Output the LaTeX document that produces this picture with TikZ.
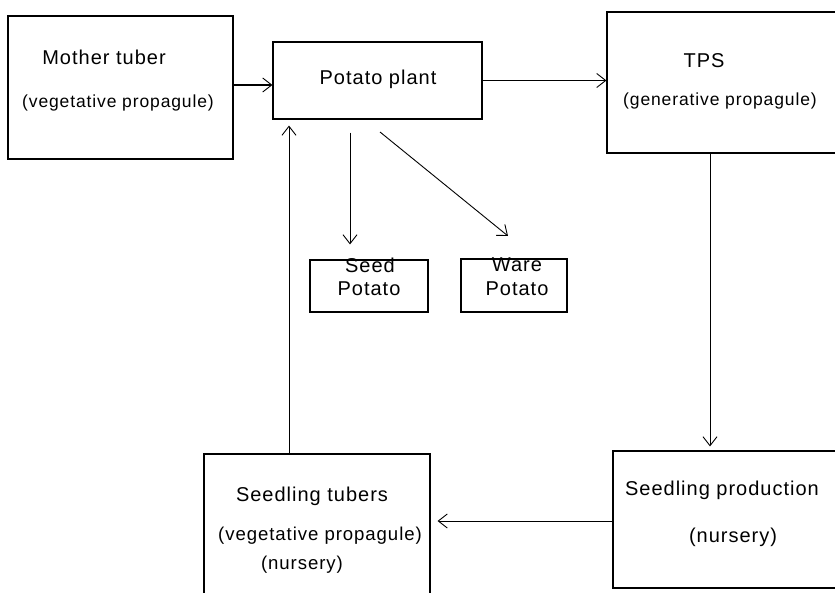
\documentclass[tikz,border=0pt]{standalone}
\usepackage{fontspec}
\setmainfont{Liberation Sans}[LetterSpace=5.0]
\usetikzlibrary{arrows.meta}
\begin{document}
\begin{tikzpicture}[x=1pt,y=-1pt,
  box/.style={draw, line width=1.1pt, rectangle, inner sep=0pt},
  arr/.style={draw, line width=0.9pt, -{Straight Barb[length=9pt,width=14pt,line width=0.9pt]}},
  lbl/.style={anchor=mid, inner sep=0pt},
  big/.style={lbl, font=\fontsize{20}{24}\selectfont},
  small/.style={lbl, font=\fontsize{17.5}{21}\selectfont},
  mid/.style={lbl, font=\fontsize{18.6}{22}\selectfont}]
\useasboundingbox (0,0) rectangle (835,593);
\clip (0,0) rectangle (835,593);
% boxes
\node[box, minimum width=225pt, minimum height=143pt] (mother) at (120.5,87.5) {};
\node[box, minimum width=209pt, minimum height=77pt] (plant) at (377.5,80.5) {};
\node[box, minimum width=243pt, minimum height=141pt] (tps) at (728.5,82.5) {};
\node[box, minimum width=118pt, minimum height=52pt] (seed) at (369,286) {};
\node[box, minimum width=106pt, minimum height=53pt] (ware) at (514,285.5) {};
\node[box, minimum width=226pt, minimum height=156pt] (tubers) at (317,532) {};
\node[box, minimum width=237pt, minimum height=137pt] (prod) at (731.5,519.5) {};
% texts
\node[big] (t1) at (104,62) {Mother tuber};
\node[small] (t2) at (118,105) {(vegetative propagule)};
\node[big] (t3) at (378,82) {Potato plant};
\node[big] (t4) at (704,65) {TPS};
\node[small] (t5) at (720,103) {(generative propagule)};
\node[big] (t6) at (370,270) {Seed};
\node[big] (t7) at (369,293) {Potato};
\node[big] (t8) at (517,269) {Ware};
\node[big] (t9) at (517,293) {Potato};
\node[big] (t10) at (312,499) {Seedling tubers};
\node[mid] (t11) at (320,538) {(vegetative propagule)};
\node[mid] (t12) at (302,567) {(nursery)};
\node[big] (t13) at (722,493) {Seedling production};
\node[big] (t14) at (733,540) {(nursery)};
% helper coordinates
\coordinate (y85) at (0,85);
\coordinate (x350) at (350,0);
\coordinate (x710) at (710,0);
\coordinate (y521) at (0,521);
\coordinate (x289) at (289,0);
\coordinate (d1) at (380,132);
\coordinate (d2) at (508,236);
% connectors
\draw[arr, line width=1.8pt] (mother.east |- y85) -- (plant.west |- y85);
\draw[arr] (plant.east) -- (tps.west |- plant.east);
\draw[arr, shorten <=13pt, shorten >=15pt] (plant.south -| x350) -- (seed.north -| x350);
\draw[arr] (d1) -- (d2);
\draw[arr, shorten >=4pt] (tps.south -| x710) -- (prod.north -| x710);
\draw[arr, shorten >=7pt] (prod.west |- y521) -- (tubers.east |- y521);
\draw[arr, shorten >=6pt] (tubers.north -| x289) -- (plant.south -| x289);
\end{tikzpicture}
\end{document}
